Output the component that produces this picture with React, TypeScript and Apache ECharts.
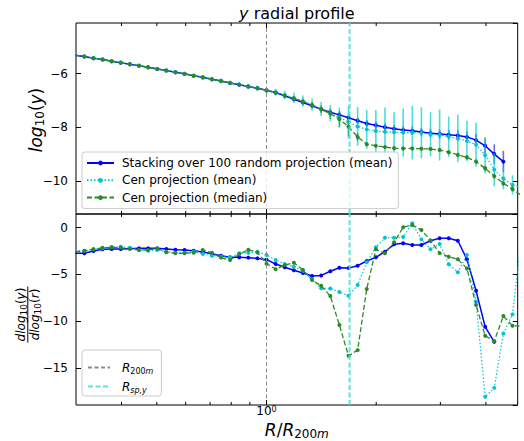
import React, { useEffect, useRef } from "react";
import * as echarts from "echarts";

const FONT = "DejaVu Sans";

// R / R200m bin centres
const radius = [0.2985, 0.3162, 0.3350, 0.3548, 0.3758, 0.3981, 0.4217, 0.4467, 0.4732, 0.5012,
  0.5309, 0.5623, 0.5957, 0.6310, 0.6683, 0.7079, 0.7499, 0.7943, 0.8414, 0.8913,
  0.9441, 1.0000, 1.0593, 1.1220, 1.1885, 1.2589, 1.3335, 1.4125, 1.4962, 1.5849,
  1.6788, 1.7783, 1.8836, 1.9953, 2.1135, 2.2387, 2.3714, 2.5119, 2.6607, 2.8184,
  2.9854, 3.1623, 3.3497, 3.5481, 3.7584, 3.9811, 4.2170, 4.4668, 4.7315, 5.0119];

// top panel: log10(y)
const stackMean = [-5.32, -5.37, -5.43, -5.48, -5.54, -5.60, -5.66, -5.71, -5.77, -5.83,
  -5.89, -5.95, -6.01, -6.08, -6.14, -6.21, -6.28, -6.35, -6.42, -6.48,
  -6.55, -6.62, -6.71, -6.83, -6.96, -7.08, -7.20, -7.33, -7.44, -7.54,
  -7.65, -7.76, -7.86, -7.93, -8.00, -8.06, -8.10, -8.13, -8.18, -8.22,
  -8.25, -8.28, -8.31, -8.36, -8.48, -8.69, -9.00, -9.28, null, null];
const stackErr = [0.05, 0.05, 0.05, 0.05, 0.05, 0.05, 0.05, 0.05, 0.05, 0.05,
  0.05, 0.05, 0.05, 0.05, 0.05, 0.05, 0.05, 0.05, 0.05, 0.05,
  0.05, 0.06, 0.06, 0.07, 0.07, 0.08, 0.08, 0.09, 0.10, 0.10,
  0.12, 0.12, 0.13, 0.13, 0.14, 0.14, 0.15, 0.15, 0.16, 0.16,
  0.17, 0.18, 0.19, 0.20, 0.24, 0.27, 0.36, 0.40, null, null];
const cenMean = [-5.32, -5.37, -5.42, -5.48, -5.54, -5.59, -5.66, -5.71, -5.77, -5.83,
  -5.89, -5.95, -6.02, -6.08, -6.14, -6.21, -6.28, -6.35, -6.41, -6.48,
  -6.55, -6.62, -6.70, -6.80, -6.91, -7.03, -7.16, -7.32, -7.48, -7.64,
  -7.81, -7.97, -8.08, -8.14, -8.17, -8.19, -8.20, -8.20, -8.21, -8.26,
  -8.29, -8.35, -8.42, -8.51, -8.65, -9.04, -9.58, -9.91, -10.15, -10.25];
const cenMeanErr = [0.06, 0.06, 0.06, 0.06, 0.06, 0.07, 0.07, 0.07, 0.07, 0.07,
  0.08, 0.08, 0.08, 0.08, 0.08, 0.09, 0.09, 0.09, 0.09, 0.10,
  0.10, 0.10, 0.13, 0.16, 0.19, 0.21, 0.23, 0.26, 0.30, 0.37,
  0.60, 0.72, 0.72, 0.78, 0.90, 0.75, 0.90, 1.00, 0.95, 0.82,
  0.95, 0.75, 0.88, 0.75, 0.82, 0.68, 0.62, 0.40, 0.36, 0.35];
const cenMedian = [-5.32, -5.37, -5.43, -5.48, -5.54, -5.60, -5.65, -5.71, -5.77, -5.83,
  -5.89, -5.95, -6.02, -6.08, -6.15, -6.21, -6.28, -6.35, -6.42, -6.48,
  -6.55, -6.63, -6.72, -6.83, -6.93, -7.04, -7.18, -7.33, -7.50, -7.70,
  -7.98, -8.36, -8.63, -8.69, -8.74, -8.78, -8.79, -8.79, -8.80, -8.81,
  -8.85, -8.93, -9.03, -9.12, -9.28, -9.53, -9.82, -10.09, -10.30, -10.55];
const cenMedianErr = [0.05, 0.05, 0.05, 0.05, 0.05, 0.05, 0.05, 0.05, 0.05, 0.05,
  0.05, 0.05, 0.05, 0.05, 0.05, 0.05, 0.05, 0.05, 0.05, 0.05,
  0.05, 0.06, 0.07, 0.08, 0.09, 0.10, 0.12, 0.15, 0.19, 0.30,
  0.35, 0.15, 0.08, 0.07, 0.07, 0.07, 0.07, 0.07, 0.07, 0.07,
  0.08, 0.08, 0.08, 0.08, 0.09, 0.10, 0.10, 0.10, 0.10, 0.10];

// bottom panel: dlog10(y)/dlog10(r)
const dStackMean = [-2.74, -2.74, -2.49, -2.31, -2.28, -2.28, -2.24, -2.21, -2.21, -2.21,
  -2.28, -2.35, -2.39, -2.46, -2.60, -2.78, -2.99, -3.17, -3.17, -3.20,
  -3.28, -3.42, -3.88, -4.23, -4.55, -4.85, -5.17, -5.10, -4.65, -4.28,
  -4.32, -4.06, -3.56, -3.17, -2.57, -1.78, -1.67, -1.85, -1.85, -1.40,
  -1.12, -1.14, -1.40, -3.38, -6.74, -10.59, -12.19, null, null, null];
const dCenMean = [-2.50, -2.46, -2.31, -2.21, -2.10, -2.03, -2.14, -2.38, -2.46, -2.38,
  -2.56, -2.67, -2.67, -2.56, -2.81, -2.99, -3.10, -3.17, -2.74, -2.67,
  -2.56, -2.92, -3.45, -3.88, -4.17, -4.60, -5.52, -6.48, -6.50, -6.88,
  -7.28, -6.13, -3.70, -2.10, -1.07, -1.07, -1.00, 0.47, -1.25, -2.31,
  -1.74, -3.90, -4.77, -2.92, -7.90, -18.07, -17.11, -11.30, -9.26, -1.00];
const dCenMedian = [-2.55, -2.49, -2.31, -2.14, -2.10, -2.14, -2.28, -2.38, -2.38, -2.21,
  -2.63, -2.74, -2.74, -2.67, -2.38, -2.67, -3.20, -3.45, -2.85, -2.35,
  -2.65, -3.85, -4.43, -4.00, -3.74, -4.52, -5.60, -6.20, -7.30, -10.40,
  -13.69, -13.08, -6.56, -2.31, -2.74, -1.56, 0.04, 0.29, -0.25, -1.37,
  -2.72, -3.10, -3.38, -4.35, -8.27, -11.55, -12.12, -9.44, -10.48, -10.50];

const R200M = 1.0;
const RSP_Y = 1.69;
const X_RANGE = [0.3, 4.89];
const TOP_Y = [-11.23, -4.12];
const BOT_Y = [-18.94, 1.46];
const xTickValues = [0.4, 0.5, 0.6, 0.7, 0.8, 0.9, 1, 2, 3, 4];
const xMajorTicks = [1];

const N_STACK = "Stacking over 100 random projection (mean)";
const N_MEAN = "Cen projection (mean)";
const N_MEDIAN = "Cen projection (median)";
const N_R200 = "R200m";
const N_RSP = "Rsp,y";

const BLUE = "#0000ff";
const CYAN = "#00c5cd";
const GREEN = "#2a8a2a";

function mathRich(size: number, sub: number, drop: number) {
  return {
    i: { fontStyle: "italic", fontFamily: FONT, fontSize: size, fill: "#000", color: "#000", lineHeight: size + 3, verticalAlign: "middle" },
    n: { fontFamily: FONT, fontSize: size, fill: "#000", color: "#000", lineHeight: size + 3, verticalAlign: "middle" },
    s: { fontFamily: FONT, fontSize: sub, fill: "#000", color: "#000", lineHeight: sub, padding: [drop, 0, 0, 0], verticalAlign: "bottom" },
    si: { fontStyle: "italic", fontFamily: FONT, fontSize: sub, fill: "#000", color: "#000", lineHeight: sub, padding: [drop, 0, 0, 0], verticalAlign: "bottom" },
  };
}

function App() {
  const ref = useRef<HTMLDivElement>(null);
  useEffect(() => {
    const chart = echarts.init(ref.current as HTMLDivElement, null, { renderer: "svg" });

    const lineData = (ys: (number | null)[]) => radius.map((x, k) => [x, ys[k]]);
    const errData = (ys: (number | null)[], es: (number | null)[]) =>
      radius
        .map((x, k) => (ys[k] == null || es[k] == null ? null : [x, (ys[k] as number) - (es[k] as number), (ys[k] as number) + (es[k] as number)]))
        .filter((d) => d !== null);

    const errSeries = (ys: (number | null)[], es: (number | null)[], color: string, z: number) => ({
      type: "custom",
      xAxisIndex: 0,
      yAxisIndex: 0,
      z,
      clip: true,
      silent: true,
      data: errData(ys, es),
      encode: { x: 0, y: [1, 2] },
      renderItem: (_p: any, api: any) => {
        const a = api.coord([api.value(0), api.value(1)]);
        const b = api.coord([api.value(0), api.value(2)]);
        return { type: "line", shape: { x1: a[0], y1: a[1], x2: b[0], y2: b[1] }, style: { stroke: color, lineWidth: 1.6 } };
      },
    });

    const dataLine = (name: string, ys: (number | null)[], color: string, type: any, width: number, z: number, grid: number) => ({
      type: "line",
      name,
      xAxisIndex: grid,
      yAxisIndex: grid * 2,
      data: lineData(ys),
      symbol: "circle",
      symbolSize: 4,
      showSymbol: true,
      clip: true,
      z,
      silent: true,
      lineStyle: { color, width, type },
      itemStyle: { color },
    });

    const vLine = (name: string, x: number, range: number[], color: string, width: number, type: any, grid: number) => ({
      type: "line",
      name,
      xAxisIndex: grid,
      yAxisIndex: grid * 2,
      data: [[x, range[0]], [x, range[1]]],
      symbol: "none",
      z: 8,
      silent: true,
      lineStyle: { color, width, type },
      itemStyle: { color: "rgba(0,0,0,0)" },
    });

    const tickSeries = (grid: number, range: number[]) => ({
      type: "custom",
      xAxisIndex: grid,
      yAxisIndex: grid * 2,
      z: 9,
      silent: true,
      data: xTickValues.map((v) => [v, range[0], xMajorTicks.includes(v) ? 1 : 0]),
      encode: { x: 0, y: 1 },
      renderItem: (_p: any, api: any) => {
        const v = api.value(0);
        const L = api.value(2) ? 5 : 3;
        const t = api.coord([v, range[1]]);
        const b = api.coord([v, range[0]]);
        return {
          type: "group",
          children: [
            { type: "line", shape: { x1: t[0], y1: t[1], x2: t[0], y2: t[1] + L }, style: { stroke: "#000", lineWidth: 1 } },
            { type: "line", shape: { x1: b[0], y1: b[1], x2: b[0], y2: b[1] - L }, style: { stroke: "#000", lineWidth: 1 } },
          ],
        };
      },
    });

    const yAxis = (grid: number, range: number[], interval: number, position: string, showLabel: boolean) => ({
      type: "value",
      gridIndex: grid,
      position,
      min: range[0],
      max: range[1],
      minInterval: interval,
      maxInterval: interval,
      splitNumber: 4,
      axisLine: { show: false },
      splitLine: { show: false },
      axisTick: { show: true, inside: true, length: 5, lineStyle: { color: "#000", width: 1 } },
      axisLabel: {
        show: showLabel,
        showMinLabel: false,
        showMaxLabel: false,
        color: "#000",
        fontFamily: FONT,
        fontSize: 12,
        margin: 8,
        formatter: (v: number) => String(v).replace("-", "\u2212"),
      },
    });

    const xAxis = (grid: number, showLabel: boolean) => ({
      type: "log",
      logBase: 10,
      gridIndex: grid,
      min: X_RANGE[0],
      max: X_RANGE[1],
      axisLine: { show: false },
      axisTick: { show: false },
      splitLine: { show: false },
      axisLabel: {
        show: showLabel,
        showMinLabel: true,
        showMaxLabel: true,
        margin: 0,
        formatter: (v: number) => (Math.abs(v - 1) < 1e-6 ? "{b|10}{p|0}" : ""),
        rich: {
          b: { fontFamily: FONT, fontSize: 12, color: "#000", padding: [2, 0, 0, 0], verticalAlign: "bottom", lineHeight: 12 },
          p: { fontFamily: FONT, fontSize: 8, color: "#000", verticalAlign: "top", lineHeight: 8 },
        },
      },
    });

    const rich17 = mathRich(17, 12, 9);
    const rich12 = mathRich(12, 9, 7);
    const legendRich = mathRich(12, 8, 7);

    const option: any = {
      animation: false,
      textStyle: { fontFamily: FONT },
      title: {
        text: "{i|y} radial profile",
        left: 296.8,
        top: 4,
        padding: 0,
        textAlign: "center",
        textStyle: {
          fontFamily: FONT,
          fontSize: 16,
          fontWeight: "normal",
          color: "#000",
          lineHeight: 18,
          rich: { i: { fontFamily: FONT, fontSize: 16, fontStyle: "italic", color: "#000", lineHeight: 18 } },
        },
      },
      grid: [
        { left: 76, right: 6.3, top: 23, height: 191, show: true, borderColor: "#000", borderWidth: 1, backgroundColor: "transparent", containLabel: false },
        { left: 76, right: 6.3, top: 214, height: 191, show: true, borderColor: "#000", borderWidth: 1, backgroundColor: "transparent", containLabel: false },
      ],
      xAxis: [xAxis(0, false), xAxis(1, true)],
      yAxis: [
        yAxis(0, TOP_Y, 2, "left", true),
        yAxis(0, TOP_Y, 2, "right", false),
        yAxis(1, BOT_Y, 5, "left", true),
        yAxis(1, BOT_Y, 5, "right", false),
      ],
      legend: [
        {
          data: [N_STACK, N_MEAN, N_MEDIAN],
          orient: "vertical",
          left: 82,
          top: 152,
          padding: [4, 6, 4, 4],
          itemWidth: 27,
          itemHeight: 6,
          itemGap: 3.3,
          selectedMode: false,
          backgroundColor: "rgba(255,255,255,0.8)",
          borderColor: "#cccccc",
          borderWidth: 1,
          borderRadius: 3,
          z: 20,
          formatter: (name: string) => "{g|}" + name,
          textStyle: { fontFamily: FONT, fontSize: 12, color: "#000", lineHeight: 14, rich: { g: { width: 3 } } },
        },
        {
          data: [N_R200, N_RSP],
          orient: "vertical",
          left: 82,
          top: 350,
          padding: [10, 8, 2, 5],
          itemWidth: 22,
          itemHeight: 3,
          itemGap: 4,
          selectedMode: false,
          backgroundColor: "rgba(255,255,255,0.8)",
          borderColor: "#cccccc",
          borderWidth: 1,
          borderRadius: 3,
          z: 20,
          formatter: (name: string) => (name === N_R200 ? "{g|}{i|R}{s|200}{si|m}" : "{g|}{i|R}{si|sp,y}"),
          textStyle: { fontFamily: FONT, fontSize: 12, color: "#000", rich: { ...legendRich, g: { width: 7 } } },
        },
      ],
      graphic: [
        {
          type: "text",
          x: 36,
          y: 120,
          rotation: Math.PI / 2,
          silent: true,
          style: { text: "{i|log}{s|10}{n|(}{i|y}{n|)}", rich: rich17, align: "center", verticalAlign: "middle", fill: "#000" },
        },
        {
          type: "group",
          x: 27.8,
          y: 314.5,
          rotation: Math.PI / 2,
          silent: true,
          children: [
            { type: "text", x: 0, y: -7, style: { text: "{i|dlog}{s|10}{n|(}{i|y}{n|)}", rich: rich12, align: "center", verticalAlign: "middle", fill: "#000" } },
            { type: "line", shape: { x1: -28, y1: 0, x2: 28, y2: 0 }, style: { stroke: "#000", lineWidth: 1 } },
            { type: "text", x: 0, y: 7, style: { text: "{i|dlog}{s|10}{n|(}{i|r}{n|)}", rich: rich12, align: "center", verticalAlign: "middle", fill: "#000" } },
          ],
        },
        {
          type: "text",
          x: 296.8,
          y: 430,
          silent: true,
          style: { text: "{i|R}{n|/}{i|R}{s|200}{si|m}", rich: rich17, align: "center", verticalAlign: "middle", fill: "#000" },
        },
      ],
      series: [
        errSeries(stackMean, stackErr, "rgba(0,0,255,0.6)", 2),
        dataLine(N_STACK, stackMean, BLUE, "solid", 1.5, 3, 0),
        errSeries(cenMean, cenMeanErr, "rgba(0,206,209,0.7)", 4),
        dataLine(N_MEAN, cenMean, CYAN, [1.5, 2], 1.2, 5, 0),
        errSeries(cenMedian, cenMedianErr, "rgba(34,139,34,0.6)", 6),
        dataLine(N_MEDIAN, cenMedian, GREEN, [5, 2.5], 1.3, 7, 0),
        vLine(N_R200, R200M, TOP_Y, "#8a8a8a", 1, [4, 2.5], 0),
        vLine(N_RSP, RSP_Y, TOP_Y, "rgba(64,224,208,0.85)", 2, [5, 2.5], 0),
        tickSeries(0, TOP_Y),
        dataLine(N_STACK, dStackMean, BLUE, "solid", 1.5, 3, 1),
        dataLine(N_MEAN, dCenMean, CYAN, [1.5, 2], 1.2, 5, 1),
        dataLine(N_MEDIAN, dCenMedian, GREEN, [5, 2.5], 1.3, 7, 1),
        vLine(N_R200, R200M, BOT_Y, "#8a8a8a", 1, [4, 2.5], 1),
        vLine(N_RSP, RSP_Y, BOT_Y, "rgba(64,224,208,0.85)", 2, [5, 2.5], 1),
        tickSeries(1, BOT_Y),
      ],
    };

    chart.setOption(option);
    return () => chart.dispose();
  }, []);
  return <div ref={ref} style={{ position: "absolute", left: 0, top: 0, width: 524, height: 441 }} />;
}

export default App;
